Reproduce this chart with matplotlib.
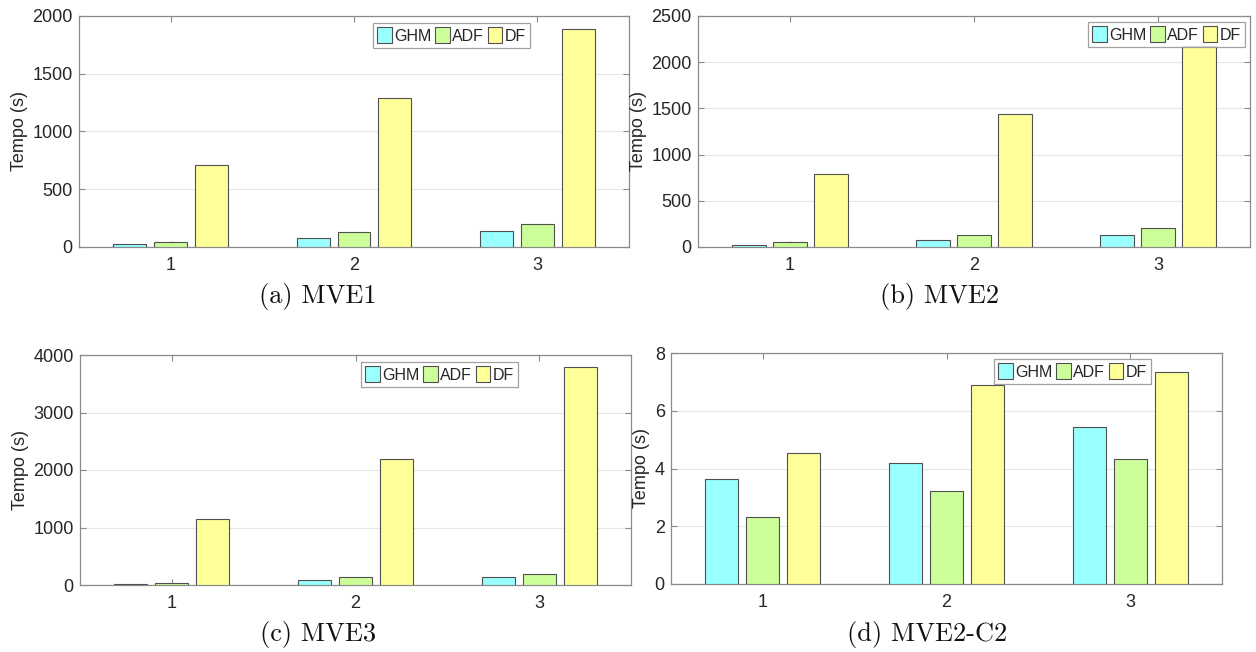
"""Tempo de execução por caso: GHM / ADF / DF em quatro painéis (MVE1, MVE2, MVE3, MVE2-C2)."""

import matplotlib

matplotlib.use("Agg")
import matplotlib.pyplot as plt
import numpy as np

W, H = 1256, 652

casos = [1, 2, 3]
metodos = ["GHM", "ADF", "DF"]
cores = ["#99FFFF", "#CCFF99", "#FFFF99"]

# valores (segundos)
mve1_ghm = [23, 75, 136]
mve1_adf = [46, 133, 202]
mve1_df = [710, 1293, 1890]

mve2_ghm = [18, 76, 130]
mve2_adf = [50, 130, 205]
mve2_df = [789, 1434, 2179]

mve3_ghm = [23, 81, 139]
mve3_adf = [40, 139, 191]
mve3_df = [1152, 2194, 3797]

c2_ghm = [3.65, 4.19, 5.44]
c2_adf = [2.31, 3.23, 4.34]
c2_df = [4.53, 6.90, 7.34]

paineis = [
    ("(a) MVE1", (mve1_ghm, mve1_adf, mve1_df), 2000, 500),
    ("(b) MVE2", (mve2_ghm, mve2_adf, mve2_df), 2500, 500),
    ("(c) MVE3", (mve3_ghm, mve3_adf, mve3_df), 4000, 1000),
    ("(d) MVE2-C2", (c2_ghm, c2_adf, c2_df), 8, 2),
]

# caixas dos eixos em pixels: x0, x1, y0 (topo), y1 (base)
caixas = [(79, 629, 16, 247), (698, 1250, 16, 247), (80, 631, 355, 585), (671, 1222, 353, 584)]
legendas = [(530, 23), (1245, 22), (518, 362), (1151, 359)]
legendas_tit = [(318, 297), (940, 297), (318, 634), (927, 634)]

SANS = ["Liberation Sans", "DejaVu Sans"]
COR_EIXO = "#8a8a8a"
COR_TEXTO = "#262626"


def px_rect(x0, x1, y0, y1):
    return [x0 / W, 1 - y1 / H, (x1 - x0) / W, (y1 - y0) / H]


def desenha(ax, series, ymax, passo):
    x = np.array(casos, dtype=float)
    largura = 0.18
    desloc = 0.223
    for i, (vals, cor, nome) in enumerate(zip(series, cores, metodos)):
        ax.bar(x + (i - 1) * desloc, vals, width=largura, color=cor,
               edgecolor="#505050", linewidth=0.8, label=nome, zorder=3)
    ax.set_xlim(0.5, 3.5)
    ax.set_ylim(0, ymax)
    ax.set_xticks(casos)
    ax.set_yticks(np.arange(0, ymax + passo / 2, passo))
    ax.yaxis.grid(True, color="#e6e6e6", linewidth=0.8, zorder=0)
    ax.set_axisbelow(True)
    for s in ax.spines.values():
        s.set_color(COR_EIXO)
        s.set_linewidth(0.9)
    ax.tick_params(direction="in", length=4, width=0.8, color=COR_EIXO,
                   top=True, right=True, labelsize=13, labelcolor=COR_TEXTO)
    ax.tick_params(axis="y", pad=4.5)
    ax.tick_params(axis="x", pad=7)
    for lab in ax.get_xticklabels() + ax.get_yticklabels():
        lab.set_family(SANS)
    ax.set_ylabel("Tempo (s)", fontsize=13, color=COR_TEXTO, family=SANS, labelpad=3)


fig = plt.figure(figsize=(W / 100, H / 100), dpi=100)

for (titulo, series, ymax, passo), caixa, leg, tit in zip(paineis, caixas, legendas, legendas_tit):
    ax = fig.add_axes(px_rect(*caixa))
    desenha(ax, series, ymax, passo)
    lg = ax.legend(loc="upper right", bbox_to_anchor=(leg[0] / W, 1 - leg[1] / H),
                   bbox_transform=fig.transFigure, ncol=3, frameon=True, fancybox=False,
                   prop={"family": SANS, "size": 11.5}, handlelength=0.9, handleheight=1.2,
                   handletextpad=0.15, columnspacing=0.25, borderpad=0.25, borderaxespad=0)
    lg.get_frame().set_edgecolor(COR_EIXO)
    lg.get_frame().set_linewidth(0.9)
    for t in lg.get_texts():
        t.set_color(COR_TEXTO)
    fig.text(tit[0] / W, 1 - tit[1] / H, titulo, ha="center", va="center",
             family="cmr10", fontsize=19, color="#111111")

fig.savefig("out.png", dpi=100)
